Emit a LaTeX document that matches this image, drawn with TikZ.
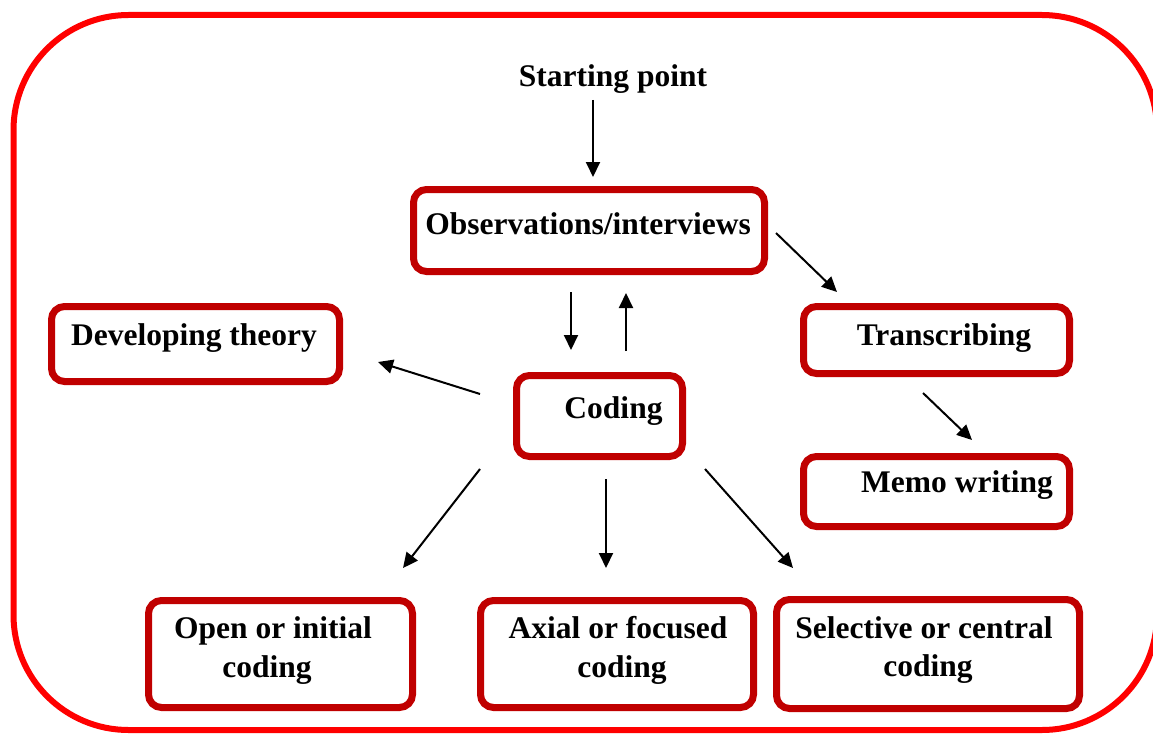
\documentclass[tikz,border=0pt]{standalone}
\usepackage{fontspec}
\setmainfont{Liberation Serif}
\usetikzlibrary{arrows.meta}
\definecolor{boxred}{HTML}{C00000}
\definecolor{framered}{HTML}{FF0000}
\tikzset{
  box/.style={draw=boxred, line width=7pt, rounded corners=13pt, fill=white, inner sep=0pt},
  lbl/.style={anchor=base, inner sep=0pt, font=\fontsize{31.5}{37}\selectfont\bfseries},
  arr/.style={line width=2pt, -{Triangle[length=15pt,width=14pt]}}
}
\begin{document}
\begin{tikzpicture}[x=1pt,y=-1pt]
\useasboundingbox (0,0) rectangle (1153,733);
% outer frame (right side runs just past the page edge)
\draw[framered, line width=6pt, rounded corners=115pt] (13.5,15) rectangle (1157,730);

% boxes
\node[box, minimum width=351pt, minimum height=82pt] (obs) at (589,230.5) {};
\node[box, minimum width=166pt, minimum height=81pt] (coding) at (599.5,416) {};
\node[box, minimum width=288pt, minimum height=75pt] (dev) at (195.5,344) {};
\node[box, minimum width=266pt, minimum height=67pt] (trans) at (936.5,340) {};
\node[box, minimum width=266pt, minimum height=70pt] (memo) at (936.5,491.5) {};
\node[box, minimum width=264pt, minimum height=107pt] (open) at (280.5,654) {};
\node[box, minimum width=273pt, minimum height=107pt] (axial) at (617,654) {};
\node[box, minimum width=303pt, minimum height=109pt] (sel) at (928,654) {};

% texts
\node[lbl] (startT) at (613,87) {Starting point};
\node[lbl] (obsT) at (588,234) {Observations/interviews};
\node[lbl] (codingT) at (613.5,418) {Coding};
\node[lbl] (devT) at (194,345) {Developing theory};
\node[lbl] (transT) at (944,345) {Transcribing};
\node[lbl] (memoT) at (957,492) {Memo writing};
\node[lbl] (openT1) at (273,638) {Open or initial};
\node[lbl] (openT2) at (267,677) {coding};
\node[lbl] (axialT1) at (618,638) {Axial or focused};
\node[lbl] (axialT2) at (622,677) {coding};
\node[lbl] (selT1) at (924,638) {Selective or central};
\node[lbl] (selT2) at (928,676) {coding};

% arrow end points
\coordinate (sA) at (593,100);   \coordinate (sB) at (593,177);
\coordinate (ocA) at (571,292);  \coordinate (ocB) at (571,350);
\coordinate (coA) at (626,351);  \coordinate (coB) at (626,293);
\coordinate (otA) at (776,233);  \coordinate (otB) at (837,292);
\coordinate (tmA) at (923,393);  \coordinate (tmB) at (972,440);
\coordinate (cdA) at (480,394);  \coordinate (cdB) at (378,362);
\coordinate (cpA) at (480,469);  \coordinate (cpB) at (403,568);
\coordinate (caA) at (606,479);  \coordinate (caB) at (606,568);
\coordinate (csA) at (705,469);  \coordinate (csB) at (793,568);

\draw[arr] (sA) -- (sB);
\draw[arr] (ocA) -- (ocB);
\draw[arr] (coA) -- (coB);
\draw[arr] (otA) -- (otB);
\draw[arr] (tmA) -- (tmB);
\draw[arr] (cdA) -- (cdB);
\draw[arr] (cpA) -- (cpB);
\draw[arr] (caA) -- (caB);
\draw[arr] (csA) -- (csB);
\end{tikzpicture}
\end{document}
